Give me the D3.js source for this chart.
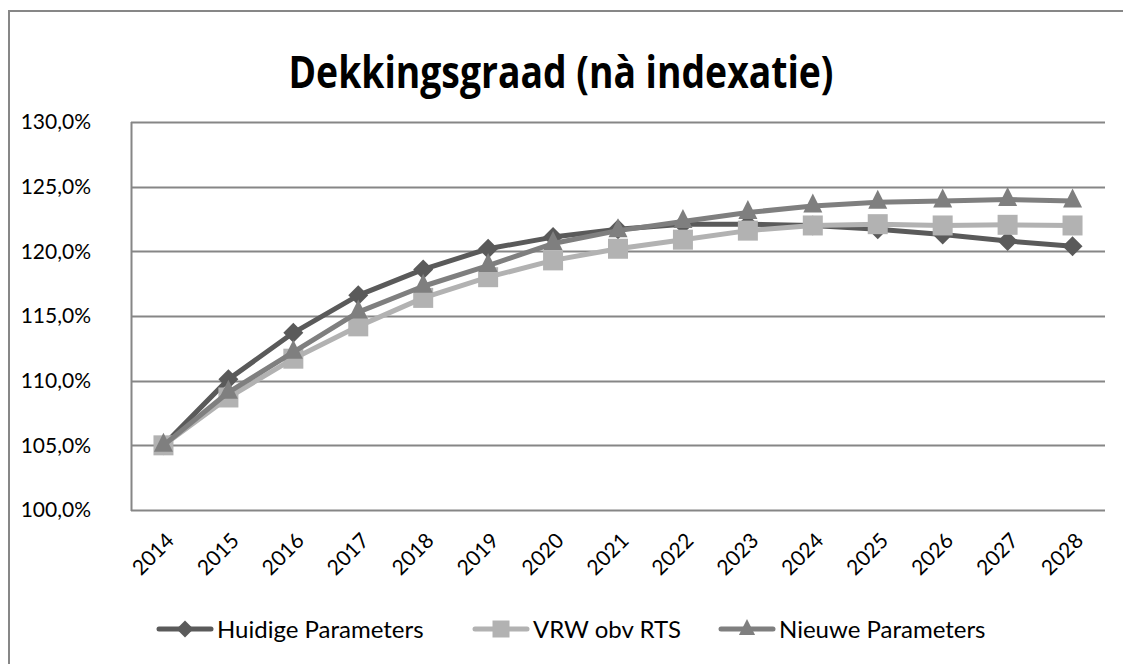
<!DOCTYPE html>
<html>
<head>
<meta charset="utf-8">
<script src="https://cdn.jsdelivr.net/npm/d3@7"></script>
<style>
  html, body { margin: 0; background: #fff; overflow: hidden; }
  svg { display: block; font-family: Lato, "Open Sans", sans-serif; }
</style>
</head>
<body>
<div id="chart"></div>
<script>
var years = ["2014","2015","2016","2017","2018","2019","2020","2021","2022","2023","2024","2025","2026","2027","2028"];
var huidige = [105.0, 110.1, 113.7, 116.6, 118.6, 120.2, 121.1, 121.7, 122.1, 122.1, 122.0, 121.7, 121.3, 120.8, 120.4];
var vrw     = [105.0, 108.7, 111.7, 114.2, 116.4, 118.0, 119.3, 120.2, 120.9, 121.6, 122.0, 122.1, 122.0, 122.05, 122.0];
var nieuwe  = [105.0, 109.1, 112.2, 115.3, 117.3, 118.9, 120.6, 121.6, 122.3, 123.0, 123.5, 123.8, 123.9, 124.0, 123.9];
var yTicks = [100, 105, 110, 115, 120, 125, 130];

var series = [
  {name: "Huidige Parameters", values: huidige, color: "#5a5a5a", shape: "diamond"},
  {name: "VRW obv RTS", values: vrw, color: "#b2b2b2", shape: "square"},
  {name: "Nieuwe Parameters", values: nieuwe, color: "#7f7f7f", shape: "triangle"}
];

var W = 1123, H = 664;
var margin = {top: 122, right: 18, bottom: 154, left: 131};

var svg = d3.select("#chart").append("svg")
  .attr("width", W)
  .attr("height", H);

// outer frame, only top and left edges are inside the picture
svg.append("path")
  .attr("d", "M9," + H + "V11H" + W)
  .attr("fill", "none")
  .attr("stroke", "#878787")
  .attr("stroke-width", 2);

svg.append("text")
  .attr("x", 561).attr("y", 88)
  .attr("text-anchor", "middle")
  .attr("font-family", "'Open Sans', sans-serif")
  .attr("font-weight", "bold")
  .attr("font-size", 44)
  .attr("textLength", 545)
  .attr("lengthAdjust", "spacingAndGlyphs")
  .attr("fill", "#000")
  .text("Dekkingsgraad (nà indexatie)");

var x = d3.scaleBand()
  .domain(years)
  .range([margin.left, W - margin.right]);

var y = d3.scaleLinear()
  .domain([100, 130])
  .range([H - margin.bottom, margin.top]);

// gridlines
svg.append("g")
  .selectAll("line")
  .data(yTicks)
  .enter().append("line")
  .attr("x1", margin.left)
  .attr("x2", W - margin.right)
  .attr("y1", function(d) { return Math.round(y(d)) + 0.5; })
  .attr("y2", function(d) { return Math.round(y(d)) + 0.5; })
  .attr("stroke", "#868686")
  .attr("stroke-width", 2);

// y axis line
svg.append("line")
  .attr("x1", margin.left + 0.5).attr("x2", margin.left + 0.5)
  .attr("y1", margin.top).attr("y2", H - margin.bottom + 1)
  .attr("stroke", "#868686")
  .attr("stroke-width", 2);

var pctFormat = function(d) { return d.toFixed(1).replace(".", ",") + "%"; };

var yAxis = d3.axisLeft(y).tickValues(yTicks).tickFormat(pctFormat).tickSize(0).tickPadding(0);
var gy = svg.append("g")
  .attr("transform", "translate(" + (margin.left - 40) + ",0)")
  .call(yAxis);
gy.select(".domain").remove();
gy.selectAll("text")
  .attr("font-size", 21)
  .attr("font-family", "Lato, sans-serif")
  .attr("fill", "#000");

var xAxis = d3.axisBottom(x).tickSize(0).tickPadding(0);
var gx = svg.append("g")
  .attr("transform", "translate(0," + (H - margin.bottom) + ")")
  .call(xAxis);
gx.select(".domain").remove();
gx.selectAll("text")
  .attr("font-size", 21)
  .attr("font-family", "Lato, sans-serif")
  .attr("fill", "#000")
  .attr("text-anchor", "end")
  .attr("dy", 0)
  .attr("transform", "translate(12,32) rotate(-45)");

// marker shapes, r = half of the marker size in px
var shapes = {
  diamond: function(r) { return "M0," + (-r) + "L" + r + ",0L0," + r + "L" + (-r) + ",0Z"; },
  square: function(r) { return "M" + (-r) + "," + (-r) + "H" + r + "V" + r + "H" + (-r) + "Z"; },
  triangle: function(r) { return "M0," + (-r) + "L" + r + "," + r + "H" + (-r) + "Z"; }
};
var markerR = { diamond: 10, square: 10, triangle: 9.5 };

function cx(i) { return x(years[i]) + x.bandwidth() / 2; }

var line = d3.line()
  .x(function(d, i) { return cx(i); })
  .y(function(d) { return y(d); });

series.forEach(function(s) {
  var g = svg.append("g");
  g.append("path")
    .datum(s.values)
    .attr("d", line)
    .attr("fill", "none")
    .attr("stroke", s.color)
    .attr("stroke-width", 5)
    .attr("stroke-linejoin", "round");
  g.selectAll("path.marker")
    .data(s.values)
    .enter().append("path")
    .attr("class", "marker")
    .attr("d", shapes[s.shape](markerR[s.shape]))
    .attr("transform", function(d, i) {
      var dy = s.shape == "triangle" ? -3 : 0;
      return "translate(" + cx(i) + "," + (y(d) + dy) + ")";
    })
    .attr("fill", s.color);
});

// legend
var legendX = [157, 473, 719];
var legend = svg.append("g");
series.forEach(function(s, i) {
  var lg = legend.append("g").attr("transform", "translate(" + legendX[i] + ",629)");
  lg.append("line")
    .attr("x1", 2).attr("x2", 54)
    .attr("stroke", s.color)
    .attr("stroke-width", 5)
    .attr("stroke-linecap", "round");
  lg.append("path")
    .attr("d", shapes[s.shape](markerR[s.shape] * 0.85))
    .attr("transform", "translate(28," + (s.shape == "triangle" ? -2 : 0) + ")")
    .attr("fill", s.color);
  lg.append("text")
    .attr("x", 60)
    .attr("y", 9)
    .attr("font-size", 24)
    .attr("fill", "#000")
    .text(s.name);
});
</script>
</body>
</html>
